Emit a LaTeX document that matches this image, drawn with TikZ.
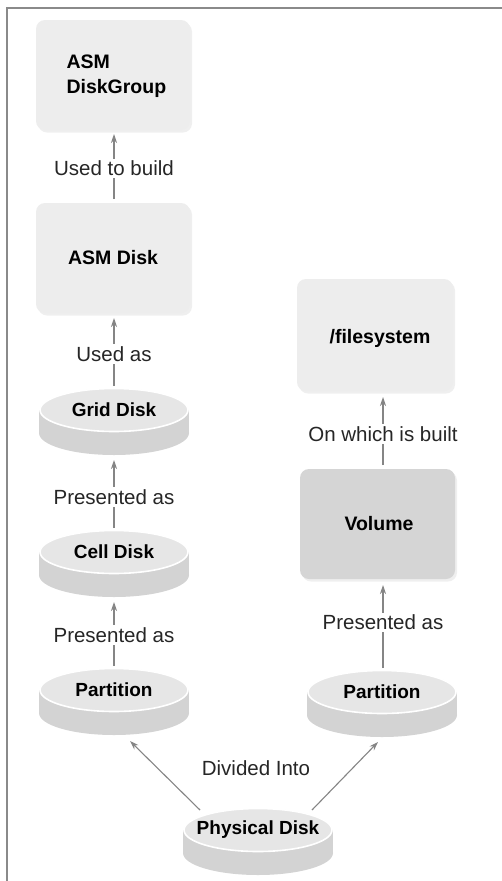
\documentclass[tikz,border=0pt]{standalone}
\usepackage{fontspec}
\setmainfont{Liberation Sans}
\usetikzlibrary{shadows,arrows.meta}
\definecolor{boxfill}{HTML}{EDEDED}
\definecolor{volfill}{HTML}{D5D5D5}
\definecolor{topfill}{HTML}{E6E6E6}
\definecolor{sidefill}{HTML}{D3D3D3}
\definecolor{linegray}{HTML}{858585}
\definecolor{framegray}{HTML}{8A8A8A}
\newcommand\mydisk[4]{%
  \fill[sidefill] (#2-75,#3) rectangle (#2+75,#3+23);
  \fill[sidefill] (#2,#3+23) ellipse [x radius=75, y radius=22];
  \filldraw[fill=topfill, draw=white, line width=1.6pt] (#2,#3) ellipse [x radius=74, y radius=21.5];
  \node[disktext] (#1) at (#2,#3) {#4};
  \coordinate (#1-t) at (#2,#3-24);
  \coordinate (#1-b) at (#2,#3+50);
}
\begin{document}
\begin{tikzpicture}[x=1pt,y=-1pt,
  box/.style={rounded corners=9pt, fill=boxfill,
    drop shadow={opacity=0.12, shadow xshift=2pt, shadow yshift=-2.5pt}},
  boxtext/.style={font=\fontsize{19.5}{25}\selectfont\bfseries, align=center},
  disktext/.style={font=\fontsize{19}{24}\selectfont\bfseries, inner sep=1pt},
  lbl/.style={font=\fontsize{20.5}{24}\selectfont, text=black!85, fill=white, inner sep=2pt},
  conn/.style={draw=linegray, line width=1.1pt, -{Stealth[length=9pt, width=6pt]}}]
\useasboundingbox (0,0) rectangle (502,881);
\fill[white] (0,0) rectangle (502,881);
% frame
\draw[framegray, line width=1.6pt] (7,881) -- (7,8) -- (502,8);

% boxes
\path[box] (36,20) rectangle (190,130);
\node[boxtext, align=left, anchor=west] (dg) at (63,76) {ASM\\DiskGroup};
\coordinate (dg-b) at (114,134);

\path[box] (36,203) rectangle (190,313);
\node[boxtext] (asm) at (113,258) {ASM Disk};
\coordinate (asm-t) at (114,199);
\coordinate (asm-b) at (114,318);

\path[box] (297,279) rectangle (453,391);
\node[boxtext] (fs) at (380,338) {/filesystem};
\coordinate (fs-b) at (383,397);

\path[box, fill=volfill] (300,469) rectangle (455,579);
\node[boxtext] (vol) at (379,524) {Volume};
\coordinate (vol-t) at (383,465);
\coordinate (vol-b) at (383,585);

% disks
\mydisk{grid}{114}{410}{Grid Disk}
\mydisk{cell}{114}{552}{Cell Disk}
\mydisk{lpart}{114}{690}{Partition}
\mydisk{rpart}{382}{692}{Partition}
\mydisk{phys}{258}{830}{Physical Disk}

% connectors
\draw[conn] (asm-t) -- (dg-b) node[lbl, midway, yshift=-2pt] (l1) {Used to build};
\draw[conn] (grid-t) -- (asm-b) node[lbl, midway, yshift=-2pt] (l2) {Used as};
\draw[conn] (cell-t) -- (grid-b) node[lbl, midway, yshift=-3pt] (l3) {Presented as};
\draw[conn] (lpart-t) -- (cell-b) node[lbl, midway, yshift=-1pt] (l4) {Presented as};
\draw[conn] (vol-t) -- (fs-b) node[lbl, midway, yshift=-3pt] (l5) {On which is built};
\draw[conn] ([xshift=1pt]rpart-t) -- (vol-b) node[lbl, midway, yshift=4pt] (l6) {Presented as};

\coordinate (pl) at (200,810);
\coordinate (pr) at (312,810);
\coordinate (lpe) at (130,741);
\coordinate (rpe) at (378,742);
\draw[conn] (pl) -- (lpe);
\draw[conn] (pr) -- (rpe);
\node[lbl] (div) at (256,768) {Divided Into};
\end{tikzpicture}
\end{document}
